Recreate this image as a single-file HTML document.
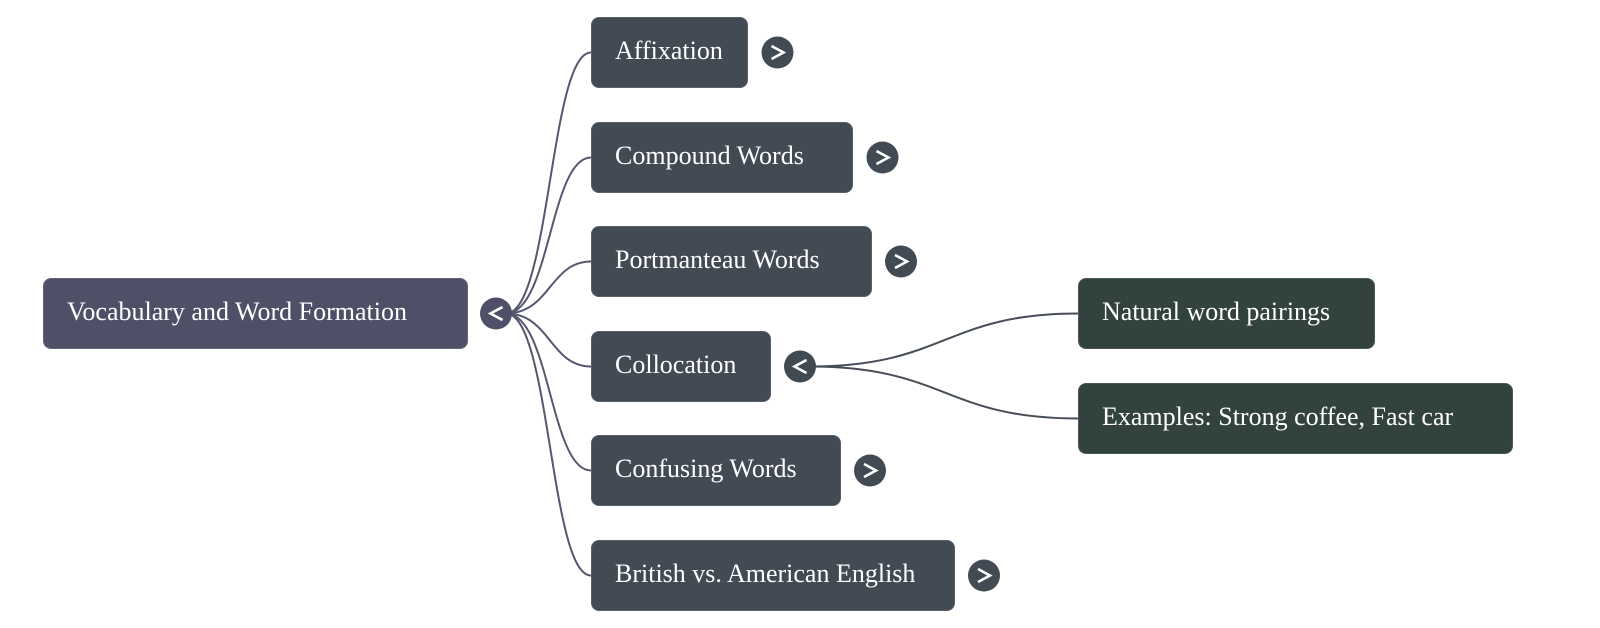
<!DOCTYPE html>
<html>
<head>
<meta charset="utf-8">
<style>
  html, body { margin:0; padding:0; background:#ffffff; }
  body { width:1600px; height:628px; position:relative; overflow:hidden; }
  svg.lines { position:absolute; left:0; top:0; }
  .box {
    position:absolute; height:71px; box-sizing:border-box;
    border-radius:8px; color:#ffffff;
    font-family:"Liberation Serif", serif; font-size:26px; line-height:30px;
    padding:18px 0 0 23px; white-space:nowrap;
    border:1px solid rgba(255,255,255,0.12);
  }
  .root { background:#4f5067; }
  .l1 { background:#424a54; }
  .l2 { background:#32423e; }
</style>
</head>
<body>
<svg class="lines" width="1600" height="628" viewBox="0 0 1600 628">
  <g fill="none" stroke="#575870" stroke-width="2">
    <path d="M506 313.5 C550 313.5 550 52.5 591 52.5"/>
    <path d="M506 313.5 C550 313.5 550 157.5 591 157.5"/>
    <path d="M506 313.5 C550 313.5 550 261.5 591 261.5"/>
    <path d="M506 313.5 C550 313.5 550 366.5 591 366.5"/>
    <path d="M506 313.5 C550 313.5 550 470.5 591 470.5"/>
    <path d="M506 313.5 C550 313.5 550 575.5 591 575.5"/>
  </g>
  <g fill="none" stroke="#474e58" stroke-width="2">
    <path d="M810 366.5 C945 366.5 945 313.5 1078 313.5"/>
    <path d="M810 366.5 C945 366.5 945 418.5 1078 418.5"/>
  </g>

  <!-- toggle circles -->
  <g>
    <circle cx="496" cy="313.5" r="16" fill="#4f5067"/>
    <circle cx="777.5" cy="52.5" r="16" fill="#424a54"/>
    <circle cx="882.5" cy="157.5" r="16" fill="#424a54"/>
    <circle cx="901" cy="261.5" r="16" fill="#424a54"/>
    <circle cx="800" cy="366.5" r="16" fill="#424a54"/>
    <circle cx="870" cy="470.5" r="16" fill="#424a54"/>
    <circle cx="984" cy="575.5" r="16" fill="#424a54"/>
  </g>
  <g fill="none" stroke="#ffffff" stroke-width="2.6" stroke-linejoin="miter" stroke-linecap="butt">
    <!-- left chevrons -->
    <polyline points="502.5,307 490.5,313.5 502.5,320"/>
    <polyline points="806.5,360 794.5,366.5 806.5,373"/>
    <!-- right chevrons -->
    <polyline points="771.5,46 783.5,52.5 771.5,59"/>
    <polyline points="876.5,151 888.5,157.5 876.5,164"/>
    <polyline points="895,255 907,261.5 895,268"/>
    <polyline points="864,464 876,470.5 864,477"/>
    <polyline points="978,569 990,575.5 978,582"/>
  </g>
</svg>

<div class="box root" style="left:43px;top:278px;width:425px;">Vocabulary and Word Formation</div>

<div class="box l1" style="left:591px;top:17px;width:157px;">Affixation</div>
<div class="box l1" style="left:591px;top:122px;width:262px;">Compound Words</div>
<div class="box l1" style="left:591px;top:226px;width:281px;">Portmanteau Words</div>
<div class="box l1" style="left:591px;top:331px;width:180px;">Collocation</div>
<div class="box l1" style="left:591px;top:435px;width:250px;">Confusing Words</div>
<div class="box l1" style="left:591px;top:540px;width:364px;">British vs. American English</div>

<div class="box l2" style="left:1078px;top:278px;width:297px;">Natural word pairings</div>
<div class="box l2" style="left:1078px;top:383px;width:435px;">Examples: Strong coffee, Fast car</div>
</body>
</html>
